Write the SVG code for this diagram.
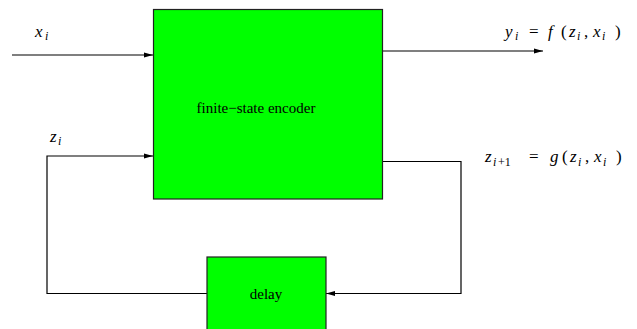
<svg xmlns="http://www.w3.org/2000/svg" width="637" height="329" viewBox="0 0 637 329">
<defs>
<style>
.box{fill:#00ff00;stroke:#222;stroke-width:1.2}
.ln{fill:none;stroke:#000;stroke-width:1.2}
.lbl{font-size:15px;fill:#000}
.m{font-size:17px;font-style:italic;fill:#000}
.up{font-style:normal}
.sub{font-size:12px}
</style>
<marker id="ah" markerWidth="10" markerHeight="8" refX="9" refY="4" orient="auto" markerUnits="userSpaceOnUse">
<path d="M0,1.5 L9,4 L0,6.5 Z" fill="#000"/>
</marker>
</defs>
<rect width="637" height="329" fill="#fff"/>
<g id="connectors">
<path class="ln" d="M12,55 H153" marker-end="url(#ah)"/>
<path class="ln" d="M382,51 H543" marker-end="url(#ah)"/>
<path class="ln" d="M207,293.5 H47 V156 H153" marker-end="url(#ah)"/>
<path class="ln" d="M382,161.5 H461 V293.5 H326" marker-end="url(#ah)"/>
</g>
<g id="encoder" font-family="Liberation Serif, Times New Roman, serif">
<rect class="box" x="153.5" y="9.5" width="229" height="189.5"/>
<text class="lbl" x="256" y="113" text-anchor="middle">finite−state encoder</text>
</g>
<g id="delay" font-family="Liberation Serif, Times New Roman, serif">
<rect class="box" x="207" y="257" width="119" height="80"/>
<text class="lbl" x="266" y="299" text-anchor="middle">delay</text>
</g>
<g id="labels" font-family="Liberation Serif, Times New Roman, serif">
<text class="m" y="37"><tspan x="35">x</tspan><tspan class="sub" x="45" y="40">i</tspan></text>
<text class="m" y="37"><tspan x="505">y</tspan><tspan class="sub" x="515" y="40">i</tspan><tspan class="up" x="529" y="37">=</tspan><tspan x="548">f</tspan><tspan class="up" x="561">(</tspan><tspan x="569">z</tspan><tspan class="sub" x="577" y="40">i</tspan><tspan class="up" x="584" y="37">,</tspan><tspan x="593">x</tspan><tspan class="sub" x="602" y="40">i</tspan><tspan class="up" x="615" y="37">)</tspan></text>
<text class="m" y="142"><tspan x="50">z</tspan><tspan class="sub" x="58" y="145">i</tspan></text>
<text class="m" y="162"><tspan x="485">z</tspan><tspan class="sub" x="493" y="166">i</tspan><tspan class="sub up" x="498" y="166">+1</tspan><tspan class="up" x="529" y="162">=</tspan><tspan x="550">g</tspan><tspan class="up" x="562">(</tspan><tspan x="570">z</tspan><tspan class="sub" x="578" y="166">i</tspan><tspan class="up" x="585" y="162">,</tspan><tspan x="594">x</tspan><tspan class="sub" x="603" y="166">i</tspan><tspan class="up" x="616" y="162">)</tspan></text>
</g>
</svg>
